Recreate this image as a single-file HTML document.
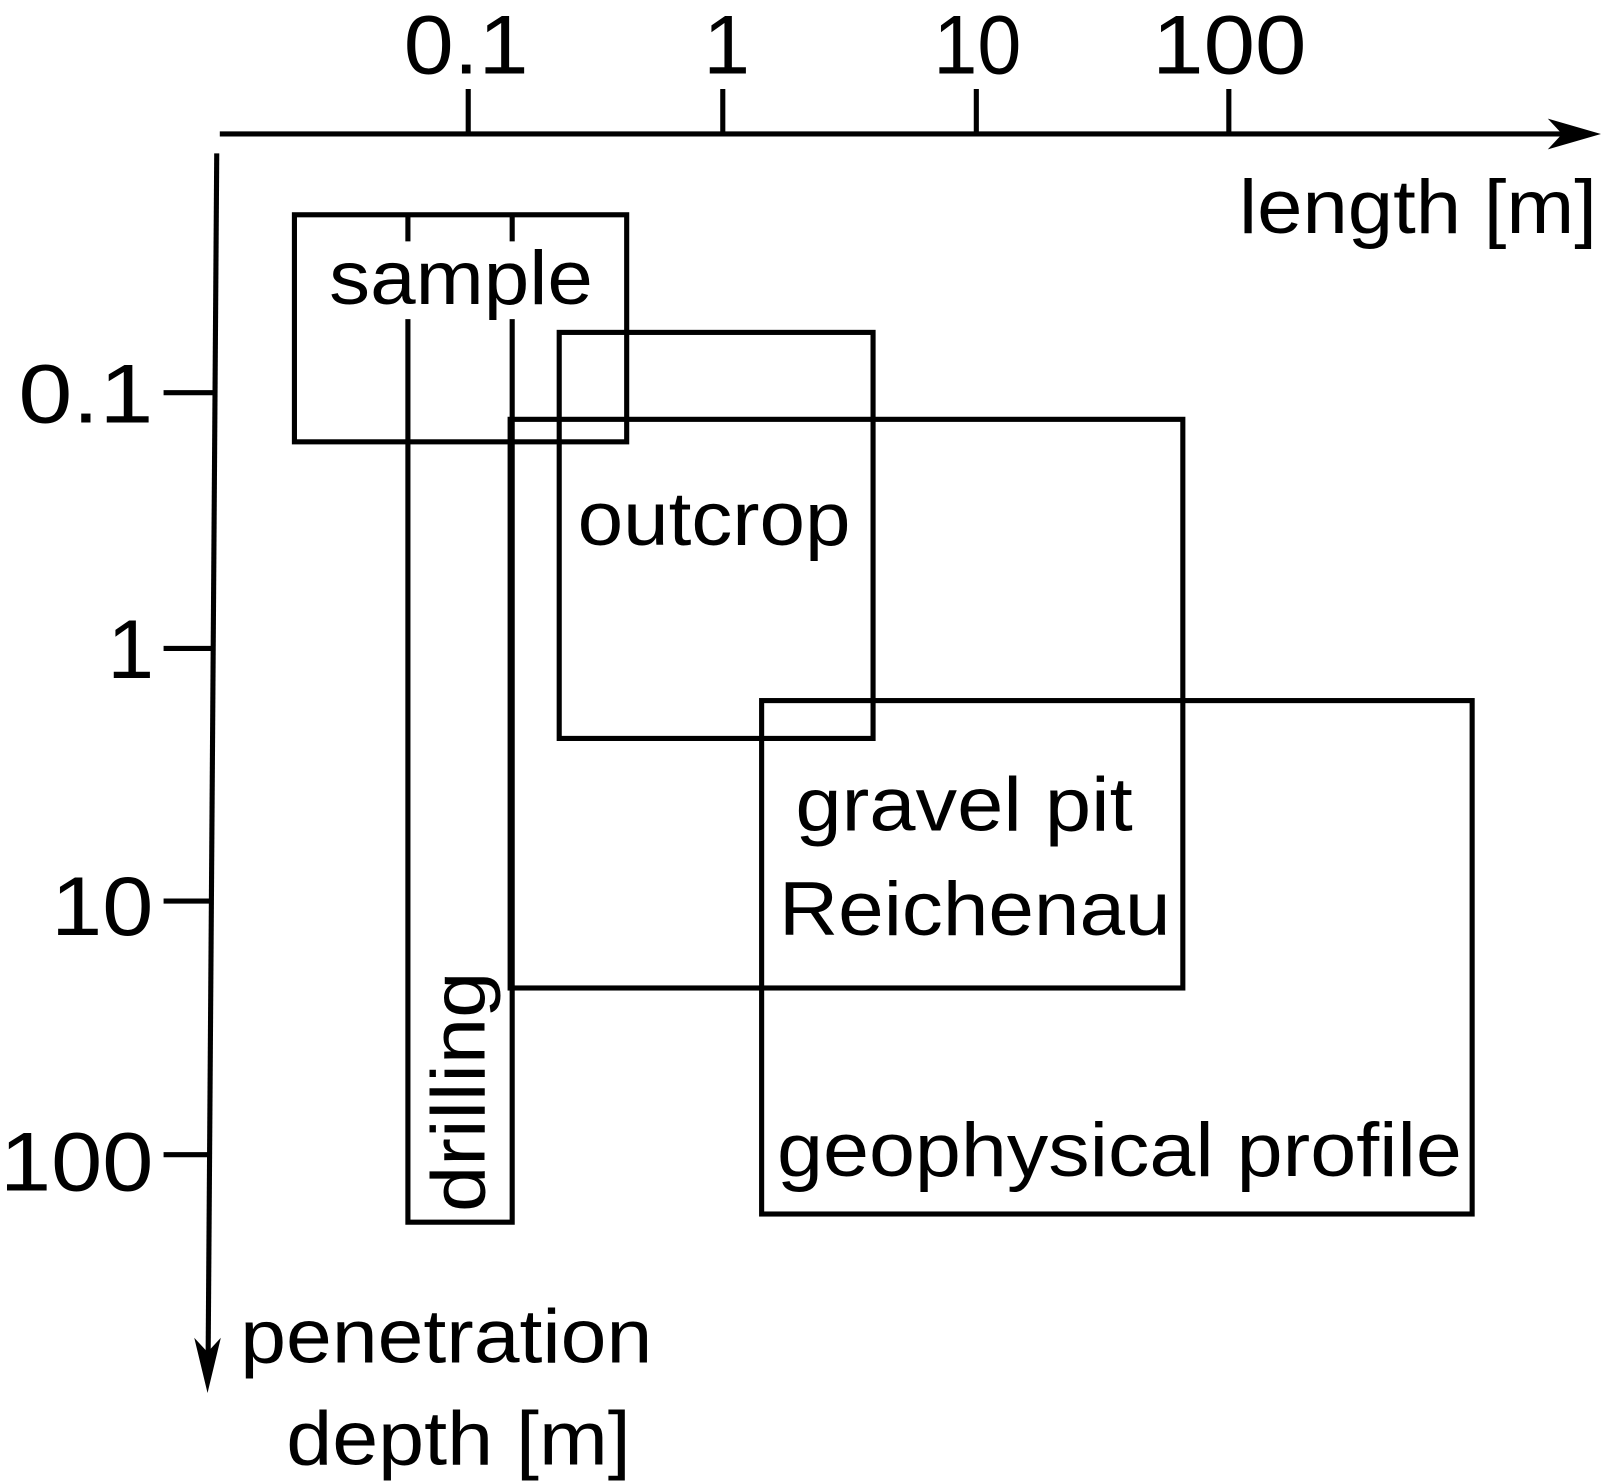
<!DOCTYPE html>
<html><head><meta charset="utf-8"><style>html,body{margin:0;padding:0;background:#fff}svg{display:block}</style></head>
<body>
<svg width="1603" height="1483" viewBox="0 0 1568 1450" preserveAspectRatio="none" xmlns="http://www.w3.org/2000/svg" font-family="Liberation Sans, Arial, sans-serif" fill="#000">
<g stroke="#000" stroke-width="5" fill="none">
<line x1="215" y1="131" x2="1545" y2="131"/>
<line x1="458" y1="87" x2="458" y2="131"/>
<line x1="707" y1="87" x2="707" y2="131"/>
<line x1="955" y1="87" x2="955" y2="131"/>
<line x1="1202" y1="87" x2="1202" y2="131"/>
<line x1="212" y1="150" x2="203.5" y2="1340"/>
<line x1="160" y1="384" x2="208" y2="384"/>
<line x1="160" y1="634" x2="207" y2="634"/>
<line x1="160" y1="881" x2="206" y2="881"/>
<line x1="160" y1="1129" x2="205" y2="1129"/>
<rect x="288" y="210" width="325" height="222"/>
<line x1="399" y1="210" x2="399" y2="236"/>
<line x1="501" y1="210" x2="501" y2="236"/>
<polyline points="399,312 399,1195 501,1195 501,312"/>
<rect x="547" y="325" width="307" height="397"/>
<rect x="499" y="410" width="658" height="556"/>
<rect x="745" y="685" width="695" height="502"/>
</g>
<polygon points="1566,131 1514,116 1528,131 1514,146"/>
<polygon points="203,1362 190,1308 203,1322 216,1308"/>
<g font-size="82">
<text x="395" y="72" textLength="122" lengthAdjust="spacingAndGlyphs">0.1</text>
<text x="688" y="72">1</text>
<text x="913" y="72" textLength="86" lengthAdjust="spacingAndGlyphs">10</text>
<text x="1127" y="72" textLength="151" lengthAdjust="spacingAndGlyphs">100</text>
<text x="18" y="413" textLength="132" lengthAdjust="spacingAndGlyphs">0.1</text>
<text x="105" y="663">1</text>
<text x="50" y="914" textLength="100" lengthAdjust="spacingAndGlyphs">10</text>
<text x="0" y="1164" textLength="150" lengthAdjust="spacingAndGlyphs">100</text>
</g>
<g font-size="74">
<text x="1212" y="228" textLength="350" lengthAdjust="spacingAndGlyphs">length [m]</text>
<text x="322" y="297" textLength="258" lengthAdjust="spacingAndGlyphs">sample</text>
<text x="565" y="533" textLength="267" lengthAdjust="spacingAndGlyphs">outcrop</text>
<text x="778" y="812" textLength="330" lengthAdjust="spacingAndGlyphs">gravel pit</text>
<text x="762" y="914" textLength="383" lengthAdjust="spacingAndGlyphs">Reichenau</text>
<text x="760" y="1150" textLength="670" lengthAdjust="spacingAndGlyphs">geophysical profile</text>
<text transform="translate(474,1185) rotate(-90)" textLength="235" lengthAdjust="spacingAndGlyphs">drilling</text>
<text x="235" y="1332" textLength="403" lengthAdjust="spacingAndGlyphs">penetration</text>
<text x="280" y="1432" textLength="337" lengthAdjust="spacingAndGlyphs">depth [m]</text>
</g>
</svg>
</body></html>
